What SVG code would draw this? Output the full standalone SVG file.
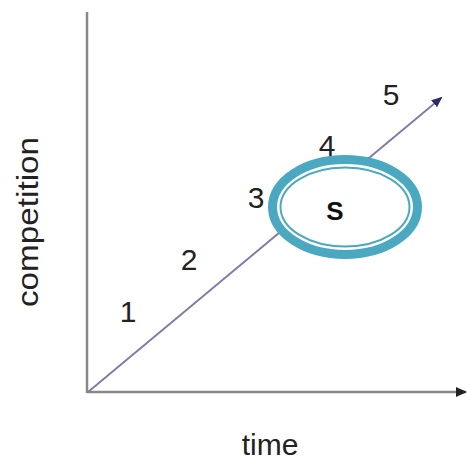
<svg xmlns="http://www.w3.org/2000/svg" width="467" height="467" viewBox="0 0 467 467">
<style>
.lbl{font-family:"Liberation Sans",Arial,sans-serif;font-size:30px;fill:#222}
.axis{stroke:#888;stroke-width:2.5;fill:none}
</style>
<defs>
<marker id="ah" markerWidth="12" markerHeight="12" refX="9" refY="6" orient="auto" markerUnits="userSpaceOnUse">
<path d="M0,1.5 L11,6 L0,10.5 Z" fill="#2a2a6a"/>
</marker>
<marker id="ah2" markerWidth="12" markerHeight="12" refX="10" refY="6" orient="auto" markerUnits="userSpaceOnUse">
<path d="M0,1 L11,6 L0,11 Z" fill="#222"/>
</marker>
</defs>
<rect width="467" height="467" fill="#fff"/>
<g id="connectors">
<line class="axis" x1="87" y1="12" x2="87" y2="393"/>
<line class="axis" x1="87" y1="392" x2="466" y2="392" marker-end="url(#ah2)"/>
<line x1="88" y1="392" x2="441" y2="98" stroke="#7a7aa8" stroke-width="1.8" marker-end="url(#ah)"/>
</g>
<g id="labels">
<text class="lbl" x="128" y="322" text-anchor="middle">1</text>
<text class="lbl" x="189" y="270" text-anchor="middle">2</text>
<text class="lbl" x="256" y="208" text-anchor="middle">3</text>
<text class="lbl" x="327" y="156" text-anchor="middle">4</text>
<text class="lbl" x="391" y="105" text-anchor="middle">5</text>
<text class="lbl" x="270" y="455" text-anchor="middle">time</text>
<text class="lbl" transform="translate(38,222) rotate(-90)" text-anchor="middle" textLength="170" lengthAdjust="spacingAndGlyphs">competition</text>
</g>
<g id="node-S">
<ellipse cx="345" cy="207" rx="72.5" ry="47.5" fill="#fff" stroke="#4aa8c0" stroke-width="9"/>
<ellipse cx="345" cy="207" rx="64.5" ry="39.5" fill="none" stroke="#4aa8c0" stroke-width="2"/>
<text x="335" y="220" text-anchor="middle" font-family="Liberation Sans,Arial,sans-serif" font-size="26" font-weight="bold" fill="#111">S</text>
</g>
</svg>
